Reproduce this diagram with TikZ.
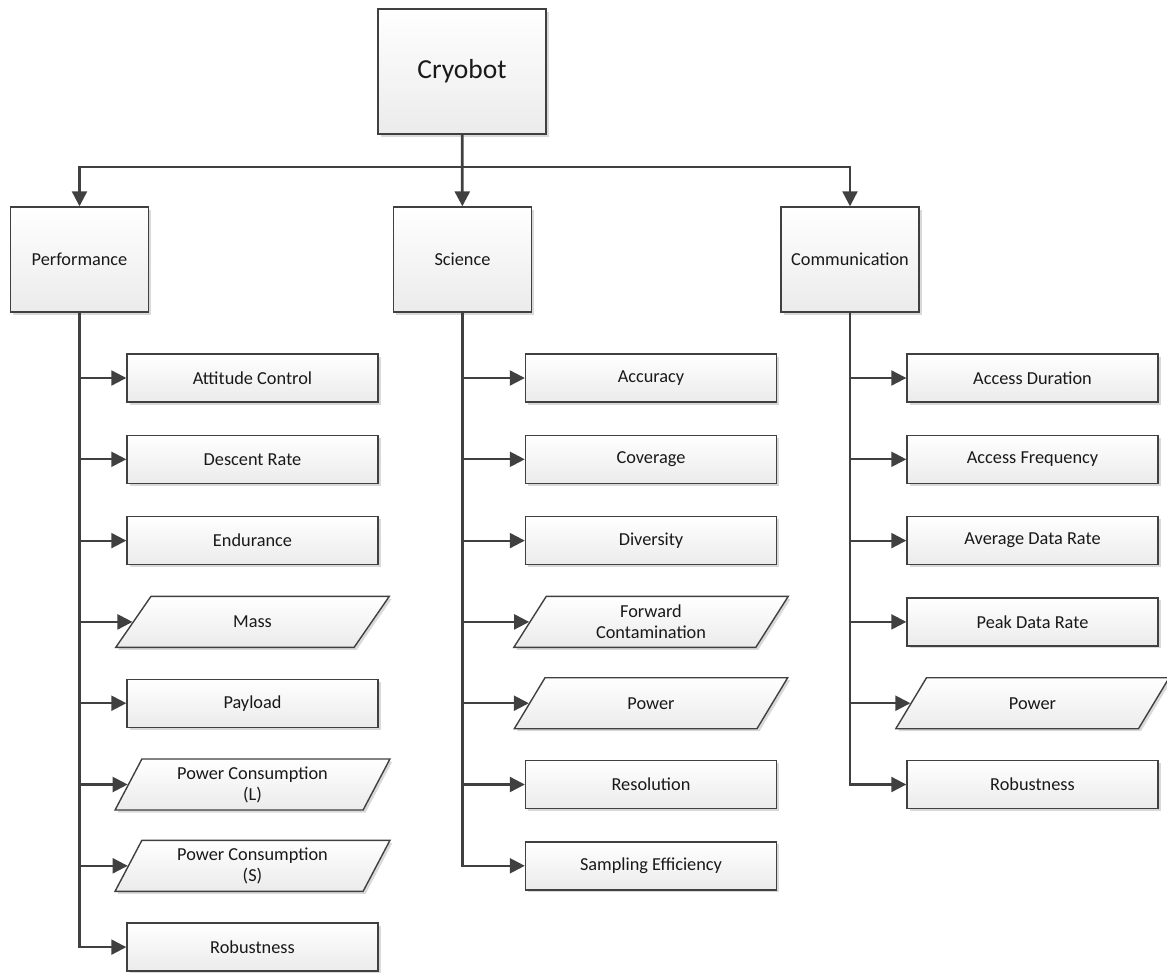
\documentclass[tikz,border=0pt]{standalone}
\usepackage{fontspec}
\setmainfont{Carlito}
\usepackage{tikz}
\usetikzlibrary{arrows.meta,shapes.geometric,shadows}

\definecolor{edgegray}{HTML}{404040}
\definecolor{boxbottom}{HTML}{EBEBEB}

\tikzset{
  box/.style={draw=edgegray, line width=1.4pt, top color=white, bottom color=boxbottom,
    drop shadow={shadow xshift=2.5pt, shadow yshift=-2.5pt, opacity=0.15, fill=black},
    align=center, inner sep=2pt, text=black!90,
    font=\fontsize{18.3}{21}\selectfont},
  rootbox/.style={box, minimum width=168pt, minimum height=125pt,
    font=\fontsize{27.5}{32}\selectfont},
  groupbox/.style={box, minimum width=138pt, minimum height=105pt},
  leafbox/.style={box, minimum width=251pt, minimum height=48pt},
  leafpara/.style={box, trapezium, trapezium left angle=65, trapezium right angle=115,
    trapezium stretches=true, minimum width=275pt, minimum height=51pt},
  conn/.style={draw=edgegray, line width=2.2pt,
    -{Triangle[length=15pt, width=15pt]}},
}

\begin{document}
\begin{tikzpicture}[x=1pt, y=-1pt]
  \useasboundingbox (0,0) rectangle (1167,972);

  % top of the tree
  \node[rootbox]  (cryo) at (462,71.5)    {Cryobot};
  \node[groupbox] (perf) at (79.5,259.5)  {Performance};
  \node[groupbox] (sci)  at (462.5,259.5) {Science};
  \node[groupbox] (comm) at (850,259.5)   {Communication};

  \draw[conn, line width=2.8pt] (cryo) -- (sci);
  \draw[conn] (cryo.south) -- ++(0,32) -| (perf.north);
  \draw[conn] (cryo.south) -- ++(0,32) -| (comm.north);

  % performance
  \foreach \shp/\txt [count=\i] in {leafbox/Attitude Control, leafbox/Descent Rate,
      leafbox/Endurance, leafpara/Mass, leafbox/Payload,
      leafpara/{Power Consumption\\(L)}, leafpara/{Power Consumption\\(S)},
      leafbox/Robustness}
  {
    \node[\shp] (p\i) at (252.5,{378+81.3*(\i-1)}) {\txt};
    \draw[conn] (perf.south) |- (p\i.west);
  }

  % science
  \foreach \shp/\txt [count=\i] in {leafbox/Accuracy, leafbox/Coverage,
      leafbox/Diversity, leafpara/{Forward\\Contamination}, leafpara/Power,
      leafbox/Resolution, leafbox/Sampling Efficiency}
  {
    \node[\shp] (s\i) at (651,{378+81.3*(\i-1)}) {\txt};
    \draw[conn] (sci.south) |- (s\i.west);
  }

  % communication
  \foreach \shp/\txt [count=\i] in {leafbox/Access Duration, leafbox/Access Frequency,
      leafbox/Average Data Rate, leafbox/Peak Data Rate, leafpara/Power,
      leafbox/Robustness}
  {
    \node[\shp] (c\i) at (1032.5,{378+81.3*(\i-1)}) {\txt};
    \draw[conn] (comm.south) |- (c\i.west);
  }
\end{tikzpicture}
\end{document}
